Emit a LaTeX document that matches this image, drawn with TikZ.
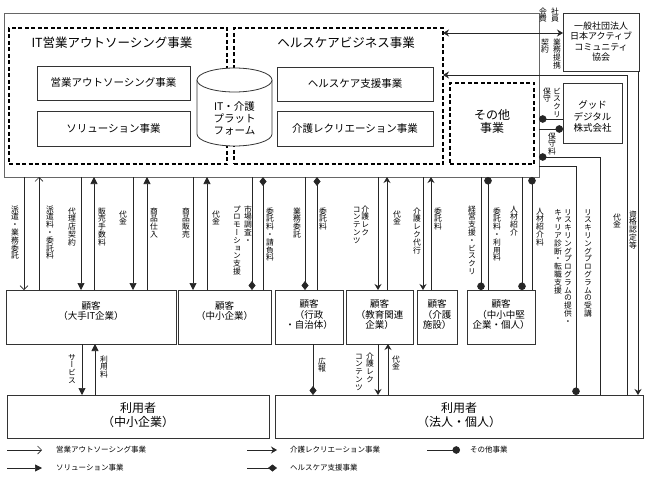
\documentclass[tikz,border=0pt]{standalone}
\usepackage{fontspec}
\setmainfont{Noto Sans CJK JP}
\newfontfamily\vfont[RawFeature=+vert]{Noto Sans CJK JP}
\usetikzlibrary{arrows.meta,shadows}
\def\vtloop#1{\ifx\relax#1\else\hbox to 1em{\hss\vrule width 0pt height .88em depth .12em #1\hss}\expandafter\vtloop\fi}
\newcommand\vt[1]{\vtop{\offinterlineskip\vtloop#1\relax}}
\newcommand\rnode[6]{\node[#1, anchor=north west, minimum width={(#5)-(#3)}, minimum height={(#6)-(#4)}] (#2) at (#3,#4) {};}
\begin{document}
\begin{tikzpicture}[x=1pt,y=-1pt,
  font=\fontsize{10.5}{12}\selectfont,
  box/.style={draw=black!80, line width=0.8pt, fill=white, inner sep=0pt, outer sep=0pt},
  obox/.style={draw=black!60, line width=0.8pt, inner sep=0pt, outer sep=0pt},
  cbox/.style={box, drop shadow={shadow xshift=1.2pt, shadow yshift=-1.2pt, opacity=0.35, fill=black}},
  dbox/.style={draw=black, line width=1.2pt, dash pattern=on 4pt off 2.5pt, inner sep=0pt, outer sep=0pt},
  ln/.style={draw=black!85, line width=0.7pt},
  opa/.style={ln, -{Straight Barb[length=4pt,width=8pt]}},
  tri/.style={ln, -{Triangle[length=7pt,width=7pt]}},
  stl/.style={ln, -{Stealth[length=6pt,width=7pt,inset=2pt]}},
  dia/.style={ln, -{Diamond[length=9pt,width=7pt]}},
  dotend/.style={ln, -{Circle[length=7.5pt]}},
  vl/.style={anchor=north, inner sep=0pt, font=\vfont\fontsize{7.8}{7.8}\selectfont},
  ttl/.style={font=\fontsize{12.5}{14}\selectfont},
  ctext/.style={align=center, font=\fontsize{9.5}{10.5}\selectfont},
  utext/.style={align=center, font=\fontsize{12}{14}\selectfont},
  lg/.style={anchor=west, inner sep=0pt, font=\fontsize{7.5}{9}\selectfont}
]
\useasboundingbox (0,0) rectangle (645,484);
\fill[white] (0,0) rectangle (645,484);

\foreach \x in {24,39,81,94,133,147,193,207,252,263,305,317,378,387,423,431,481,488,522,532,82,95,313,388,576,600,627,638}
  \coordinate (X\x) at (\x,0);
\foreach \y in {33,75,119,129,157,166}
  \coordinate (Y\y) at (0,\y);

% outer frame and business boxes
\rnode{obox}{outer}{4}{13}{539}{177}
\rnode{dbox}{d1}{9}{28}{227}{164}
\rnode{dbox}{d2}{234}{28}{443}{164}
\rnode{dbox}{d3}{450}{83}{534}{164}
\node[ttl] (t1) at (112,43) {IT営業アウトソーシング事業};
\node[ttl] (t2) at (346,43) {ヘルスケアビジネス事業};
\rnode{box}{b1}{37}{66}{190}{100}
\rnode{box}{b2}{37}{111}{190}{146}
\rnode{box}{b3}{277}{67}{433}{101}
\rnode{box}{b4}{277}{111}{433}{146}
\node (b1t) at (b1) {営業アウトソーシング事業};
\node (b2t) at (b2) {ソリューション事業};
\node (b3t) at (b3) {ヘルスケア支援事業};
\node (b4t) at (b4) {介護レクリエーション事業};
\node[align=center, font=\fontsize{12}{13}\selectfont] (d3t) at (492,121.5) {その他\\事業};

% platform cylinder
\draw[box] (197,80) -- (197,134) arc[start angle=180,end angle=0,x radius=37.5,y radius=12] -- (272,80);
\draw[box] (234.5,80) ellipse [x radius=37.5,y radius=12];
\node[align=center] (plat) at (234.5,118) {IT・介護\\プラット\\フォーム};

% partner boxes
\rnode{box}{k}{563}{13}{639}{71}
\node[align=center, font=\fontsize{9}{10.3}\selectfont] (kt) at (601,41.5) {一般社団法人\\日本アクティブ\\コミュニティ\\協会};
\rnode{box}{g}{563}{83}{622}{143}
\node[align=center, font=\fontsize{9.5}{11.5}\selectfont] (gt) at (592.5,116.5) {グッド\\デジタル\\株式会社};

% customers
\rnode{cbox}{c1}{6}{290}{176}{344}
\rnode{cbox}{c2}{178}{290}{271}{344}
\rnode{cbox}{c3}{275}{290}{343}{344}
\rnode{cbox}{c4}{346}{290}{413}{344}
\rnode{cbox}{c5}{417}{290}{457}{344}
\rnode{cbox}{c6}{467}{290}{535}{344}
\node[ctext] (c1t) at (91,311) {顧客\\（大手IT企業）};
\node[ctext] (c2t) at (224.5,311) {顧客\\（中小企業）};
\node[ctext] (c3t) at (309,314.5) {顧客\\（行政\\・自治体）};
\node[ctext] (c4t) at (379.5,314.5) {顧客\\（教育関連\\企業）};
\node[ctext] (c5t) at (437,314.5) {顧客\\（介護\\施設）};
\node[ctext] (c6t) at (501,314.5) {顧客\\（中小中堅\\企業・個人）};

% users
\rnode{cbox}{u1}{7}{395}{269}{438}
\rnode{cbox}{u2}{275}{395}{643}{438}
\node[utext] (u1t) at (138,415) {利用者\\（中小企業）};
\node[utext] (u2t) at (459,415) {利用者\\（法人・個人）};

% arrows: businesses -> customers
\draw[opa] (outer.south -| X24) -- (c1.north -| X24);
\draw[opa] (c1.north -| X39) -- (outer.south -| X39);
\draw[tri] (outer.south -| X81) -- (c1.north -| X81);
\draw[tri] (c1.north -| X94) -- (outer.south -| X94);
\draw[tri] (outer.south -| X133) -- (c1.north -| X133);
\draw[tri] (c1.north -| X147) -- (outer.south -| X147);
\draw[tri] (outer.south -| X193) -- (c2.north -| X193);
\draw[tri] (c2.north -| X207) -- (outer.south -| X207);
\draw[dia] (outer.south -| X252) -- (c2.north -| X252);
\draw[dia] (c2.north -| X263) -- (outer.south -| X263);
\draw[dia] (outer.south -| X305) -- (c3.north -| X305);
\draw[dia] (c3.north -| X317) -- (outer.south -| X317);
\draw[stl] (outer.south -| X378) -- (c4.north -| X378);
\draw[stl] (c4.north -| X387) -- (outer.south -| X387);
\draw[stl] (outer.south -| X423) -- (c5.north -| X423);
\draw[stl] (c5.north -| X431) -- (outer.south -| X431);
\draw[dotend] (outer.south -| X481) -- (c6.north -| X481);
\draw[dotend] (c6.north -| X488) -- (outer.south -| X488);
\draw[dotend] (outer.south -| X522) -- (c6.north -| X522);
\draw[dotend] (c6.north -| X532) -- (outer.south -| X532);

% customers -> users
\draw[tri] (c1.south -| X82) -- (u1.north -| X82);
\draw[tri] (u1.north -| X95) -- (c1.south -| X95);
\draw[dia] (c3.south -| X313) -- (u2.north -| X313);
\draw[stl] (c4.south -| X378) -- (u2.north -| X378);
\draw[stl] (u2.north -| X388) -- (c4.south -| X388);

% right side
\draw[ln, {Stealth[length=6pt,width=7pt,inset=2pt]}-{Stealth[length=6pt,width=7pt,inset=2pt]}] (d2.east |- Y33) -- (k.west |- Y33);
\draw[stl] (u2.north -| X627) |- (d2.east |- Y75);
\draw[stl] (k.south -| X638) -- (u2.north -| X638);
\draw[dotend] (g.west |- Y119) -- (outer.east |- Y119);
\draw[dotend] (outer.east |- Y129) -- (g.west |- Y129);
\draw[dotend] (u2.north -| X600) |- (outer.east |- Y157);
\draw[dotend] (outer.east |- Y166) -| (u2.north -| X576);

% vertical labels
\node[vl] (v1) at (15,205) {\vt{派遣・業務委託}};
\node[vl] (v2) at (50,205) {\vt{派遣料・委託料}};
\node[vl] (v3) at (72,207) {\vt{代理店契約}};
\node[vl] (v4) at (102,207) {\vt{販売手数料}};
\node[vl] (v5) at (123,210) {\vt{代金}};
\node[vl] (v6) at (154,207) {\vt{商品仕入}};
\node[vl] (v7) at (186,207) {\vt{商品販売}};
\node[vl] (v8) at (216,210) {\vt{代金}};
\node[vl] (v9) at (242.5,205) {\vt{プロモーション支援}\kern3pt\vt{市場調査・}};
\node[vl] (v10) at (270,207) {\vt{委託料・請負料}};
\node[vl] (v11) at (297,207) {\vt{業務委託}};
\node[vl] (v12) at (323,207) {\vt{委託料}};
\node[vl] (v13) at (361,205) {\vt{コンテンツ}\kern0.5pt\vt{介護レク}};
\node[vl] (v14) at (397,210) {\vt{代金}};
\node[vl] (v15) at (417,207) {\vt{介護レク代行}};
\node[vl] (v16) at (438,207) {\vt{委託料}};
\node[vl] (v17) at (472,205) {\vt{経営支援・ビスクリ}};
\node[vl] (v18) at (497,207) {\vt{委託料・利用料}};
\node[vl] (v19) at (514,205) {\vt{人材紹介}};
\node[vl] (v20) at (540,207) {\vt{人材紹介料}};
\node[vl] (v21) at (563,208) {\vt{キャリア診断・転職支援}\kern2pt\vt{リスキリングプログラムの提供・}};
\node[vl] (v22) at (588,208) {\vt{リスキリングプログラムの受講}};
\node[vl] (v23) at (617,213) {\vt{代金}};
\node[vl] (v24) at (633,210) {\vt{資格認定等}};
\node[vl] (v25) at (72,353) {\vt{サービス}};
\node[vl] (v26) at (104,355) {\vt{利用料}};
\node[vl] (v27) at (322,357) {\vt{広報}};
\node[vl] (v28) at (364.5,352) {\vt{コンテンツ}\kern3pt\vt{介護レク}};
\node[vl] (v29) at (396,355) {\vt{代金}};
\node[vl] (v30) at (549,7) {\vt{会費}\kern4pt\vt{社員}};
\node[vl] (v31) at (551,38) {\vt{契約}\kern4pt\vt{業務提携}};
\node[vl] (v32) at (552,87) {\vt{保守}\kern2pt\vt{ビスクリ}};
\node[vl] (v33) at (552,132) {\vt{保守料}};

% legend
\coordinate (la1) at (7,450);   \coordinate (lb1) at (42,450);
\coordinate (la2) at (7,468);   \coordinate (lb2) at (42,468);
\coordinate (la3) at (247,450); \coordinate (lb3) at (277,450);
\coordinate (la4) at (247,468); \coordinate (lb4) at (277,468);
\coordinate (la5) at (427,450); \coordinate (lb5) at (460,450);
\draw[opa] (la1) -- (lb1);
\draw[tri] (la2) -- (lb2);
\draw[stl] (la3) -- (lb3);
\draw[dia] (la4) -- (lb4);
\draw[dotend] (la5) -- (lb5);
\node[lg] (l1) at (56,450) {営業アウトソーシング事業};
\node[lg] (l2) at (56,468) {ソリューション事業};
\node[lg] (l3) at (290,450) {介護レクリエーション事業};
\node[lg] (l4) at (290,468) {ヘルスケア支援事業};
\node[lg] (l5) at (470,450) {その他事業};
\end{tikzpicture}
\end{document}
